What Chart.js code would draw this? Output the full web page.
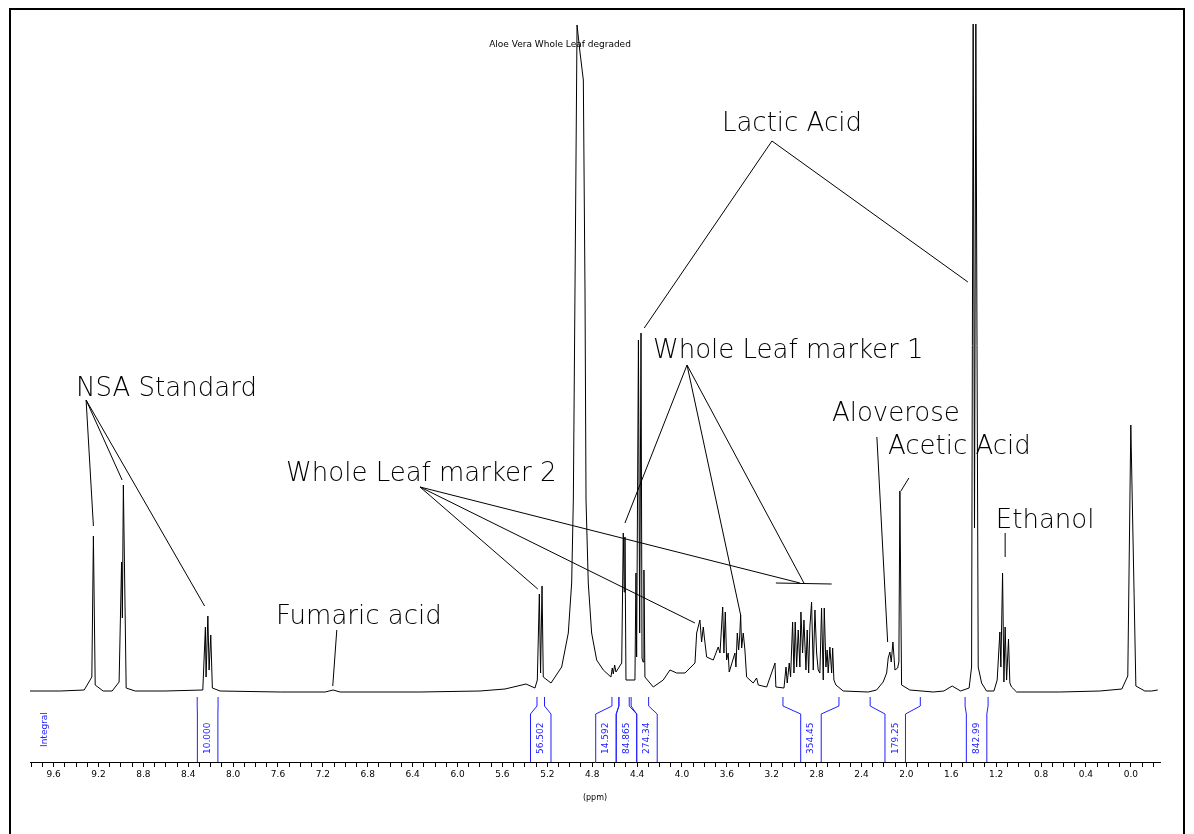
<!DOCTYPE html>
<html>
<head>
<meta charset="utf-8">
<title>Aloe Vera Whole Leaf degraded</title>
<script src="https://cdn.jsdelivr.net/npm/chart.js@4.4.1/dist/chart.umd.min.js"></script>
<style>
	html, body { margin: 0; padding: 0; background: #fff; }
	canvas { display: block; }
</style>
</head>
<body>
<canvas id="espectro" width="1194" height="834"></canvas>
<script>
const ppm = [
	9.81, 9.54, 9.327, 9.259, 9.245, 9.229, 9.158, 9.078, 9.016, 8.994, 8.987, 8.978, 8.953, 8.873,
	8.606, 8.270, 8.247, 8.241, 8.225, 8.214, 8.199, 8.185, 8.116, 7.581, 7.180, 7.109, 7.047, 6.334,
	5.800, 5.577, 5.390, 5.310, 5.289, 5.271, 5.260, 5.247, 5.236, 5.167, 5.072, 5.013, 4.983, 4.968,
	4.950, 4.935, 4.909, 4.879, 4.864, 4.855, 4.835, 4.805, 4.760, 4.701, 4.633, 4.621, 4.612, 4.600,
	4.588, 4.537, 4.523, 4.515, 4.508, 4.499, 4.419, 4.410, 4.404, 4.388, 4.377, 4.365, 4.356, 4.347,
	4.339, 4.330, 4.256, 4.167, 4.107, 4.047, 3.973, 3.884, 3.869, 3.840, 3.825, 3.810, 3.801, 3.780,
	3.721, 3.677, 3.661, 3.637, 3.626, 3.614, 3.602, 3.588, 3.579, 3.528, 3.519, 3.507, 3.495, 3.486,
	3.477, 3.468, 3.454, 3.439, 3.424, 3.365, 3.335, 3.320, 3.245, 3.171, 3.163, 3.091, 3.073, 3.062,
	3.044, 3.032, 3.014, 3.002, 2.991, 2.978, 2.964, 2.949, 2.940, 2.925, 2.913, 2.895, 2.884, 2.871,
	2.860, 2.845, 2.830, 2.815, 2.800, 2.786, 2.771, 2.756, 2.741, 2.732, 2.717, 2.706, 2.697, 2.682,
	2.666, 2.657, 2.646, 2.628, 2.563, 2.340, 2.266, 2.207, 2.176, 2.162, 2.147, 2.135, 2.120, 2.102,
	2.078, 2.067, 2.058, 2.043, 1.969, 1.761, 1.666, 1.592, 1.517, 1.441, 1.419, 1.405, 1.393, 1.381,
	1.360, 1.330, 1.286, 1.220, 1.191, 1.167, 1.158, 1.143, 1.131, 1.120, 1.107, 1.090, 1.078, 1.063,
	1.018, 0.633, 0.276, 0.080, 0.027, 0.000, -0.045, -0.125, -0.187, -0.24
];
const intensidad = [
	1, 1, 2, 15, 156, 7, 1, 1, 10, 130, 74, 207, 4, 1,
	1, 2, 65, 15, 76, 22, 57, 4, 1, 0, 0, 2, 0, 0,
	1, 3, 8, 4, 12, 98, 19, 106, 15, 9, 25, 59, 109, 192,
	450, 667, 640, 612, 400, 192, 109, 59, 32, 22, 15, 24, 18, 27,
	20, 29, 159, 100, 155, 12, 12, 119, 35, 352, 59, 359, 34, 30,
	122, 15, 5, 12, 22, 19, 19, 29, 59, 72, 50, 65, 55, 35,
	32, 45, 39, 85, 39, 80, 32, 39, 20, 39, 25, 59, 42, 55,
	77, 44, 59, 42, 15, 9, 14, 7, 5, 29, 5, 4, 25, 9,
	29, 15, 70, 19, 70, 25, 62, 25, 80, 39, 72, 22, 62, 19,
	65, 90, 22, 82, 39, 22, 19, 84, 12, 84, 25, 42, 19, 45,
	19, 44, 12, 7, 1, 0, 2, 10, 19, 34, 40, 30, 50, 22,
	24, 30, 201, 7, 2, 0, 1, 6, 1, 4, 25, 668, 164, 668,
	25, 9, 1, 1, 12, 60, 25, 119, 10, 65, 12, 53, 9, 5,
	0, 0, 1, 3, 16, 267, 6, 1, 1, 2
];

// eje x
const etiquetasEje = ['9.6', '9.2', '8.8', '8.4', '8.0', '7.6', '7.2', '6.8', '6.4', '6.0', '5.6', '5.2',
	'4.8', '4.4', '4.0', '3.6', '3.2', '2.8', '2.4', '2.0', '1.6', '1.2', '0.8', '0.4', '0.0'];

// integrales
const integralDesde = [8.320, 5.292, 4.624, 4.562, 4.453, 3.100, 2.323, 1.477];
const integralHasta = [8.134, 5.225, 4.562, 4.470, 4.297, 2.601, 1.876, 1.272];
const integralValor = ['10.000', '56.502', '14.592', '84.865', '274.34', '354.45', '179.25', '842.99'];

// asignaciones
const nombres = ['NSA Standard', 'Whole Leaf marker 2', 'Fumaric acid', 'Lactic Acid',
	'Whole Leaf marker 1', 'Aloverose', 'Acetic Acid', 'Ethanol'];
const nombrePpm = [9.399, 7.528, 7.617, 3.644, 4.258, 2.664, 2.165, 1.203];
const nombreAltura = [296, 211, 68, 561, 334, 271, 238, 164];

// lineas guia [ppm1, altura1, ppm2, altura2]
const guias = [
	[9.310, 292, 9.245, 166], [9.310, 292, 8.989, 212], [9.310, 292, 8.254, 86],
	[6.334, 205, 5.285, 103], [6.334, 205, 3.884, 69], [6.334, 205, 2.949, 109],
	[3.163, 109, 2.666, 108],
	[3.955, 327, 4.508, 169], [3.955, 327, 3.477, 77], [3.955, 327, 2.913, 109],
	[3.198, 551, 4.336, 364], [3.198, 551, 1.452, 410],
	[2.263, 255, 2.167, 50],
	[1.978, 214, 2.049, 201],
	[1.120, 159, 1.120, 135],
	[7.076, 62, 7.112, 6]
];

const AZUL = '#2020ff';

const valoresTicks = [];
for (let i = 98; i >= -2; i--) valoresTicks.push(i / 10);

const extras = {
	id: 'extras',
	afterDatasetsDraw(chart) {
		const { ctx, chartArea } = chart;
		const sx = chart.scales.x;
		const sy = chart.scales.y;
		ctx.save();

		// guias
		ctx.strokeStyle = '#000';
		ctx.lineWidth = 1;
		guias.forEach((g) => {
			ctx.beginPath();
			ctx.moveTo(sx.getPixelForValue(g[0]), sy.getPixelForValue(g[1]));
			ctx.lineTo(sx.getPixelForValue(g[2]), sy.getPixelForValue(g[3]));
			ctx.stroke();
		});

		// nombres
		ctx.fillStyle = '#000';
		ctx.font = '200 26px "DejaVu Sans"';
		ctx.textAlign = 'left';
		ctx.textBaseline = 'alphabetic';
		nombres.forEach((n, i) => {
			ctx.fillText(n, sx.getPixelForValue(nombrePpm[i]), sy.getPixelForValue(nombreAltura[i]));
		});

		// titulo
		ctx.font = '9px "DejaVu Sans"';
		ctx.textAlign = 'center';
		ctx.fillText('Aloe Vera Whole Leaf degraded', 560, 47);

		// integrales
		const ancho = 20.5;
		const base = sy.getPixelForValue(0);
		const yTop = base + 5, ySa = base + 14, ySb = base + 22, yBot = chartArea.bottom;
		const items = integralValor.map((v, i) => {
			const xa = sx.getPixelForValue(integralDesde[i]);
			const xb = sx.getPixelForValue(integralHasta[i]);
			return { v, xa, xb, c: (xa + xb) / 2 };
		}).sort((a, b) => a.c - b.c);
		// separar etiquetas que se cruzan
		const grupos = [];
		items.forEach((it) => {
			grupos.push({ items: [it], centro: it.c });
			while (grupos.length > 1) {
				const g2 = grupos[grupos.length - 1];
				const g1 = grupos[grupos.length - 2];
				const fin1 = g1.centro + g1.items.length * ancho / 2;
				const ini2 = g2.centro - g2.items.length * ancho / 2;
				if (fin1 <= ini2) break;
				const todos = g1.items.concat(g2.items);
				grupos.splice(grupos.length - 2, 2, {
					items: todos,
					centro: todos.reduce((s, t) => s + t.c, 0) / todos.length
				});
			}
		});
		ctx.strokeStyle = AZUL;
		ctx.fillStyle = AZUL;
		ctx.font = '9px "DejaVu Sans"';
		ctx.textAlign = 'left';
		ctx.textBaseline = 'middle';
		grupos.forEach((g) => {
			g.items.forEach((it, k) => {
				const pos = g.centro + (k - (g.items.length - 1) / 2) * ancho;
				const bl = pos - ancho / 2;
				const br = pos + ancho / 2;
				ctx.beginPath();
				ctx.moveTo(it.xa, yTop); ctx.lineTo(it.xa, ySa); ctx.lineTo(bl, ySb); ctx.lineTo(bl, yBot);
				ctx.moveTo(it.xb, yTop); ctx.lineTo(it.xb, ySa); ctx.lineTo(br, ySb); ctx.lineTo(br, yBot);
				ctx.stroke();
				ctx.save();
				ctx.translate(pos, yBot - 8);
				ctx.rotate(-Math.PI / 2);
				ctx.fillText(it.v, 0, 0);
				ctx.restore();
			});
		});
		ctx.save();
		ctx.translate(45, 747);
		ctx.rotate(-Math.PI / 2);
		ctx.fillText('Integral', 0, 0);
		ctx.restore();

		ctx.restore();
	},
	afterDraw(chart) {
		const ctx = chart.ctx;
		ctx.save();
		ctx.strokeStyle = '#000';
		ctx.lineWidth = 2;
		ctx.strokeRect(10, 9, 1174, 900);
		ctx.restore();
	}
};

const ctx = document.getElementById('espectro').getContext('2d');

const espectro = new Chart(ctx, {
	type: 'line',
	data: {
		datasets: [
			{
				data: ppm.map((p, i) => ({ x: p, y: intensidad[i] })),
				borderColor: '#000',
				borderWidth: 1,
				pointRadius: 0,
				tension: 0,
				fill: false
			}
		]
	},
	options: {
		responsive: false,
		animation: false,
		devicePixelRatio: 1,
		layout: { padding: { left: 30, right: 34, top: 24, bottom: 0 } },
		plugins: { legend: { display: false }, tooltip: { enabled: false } },
		scales: {
			x: {
				type: 'linear',
				reverse: true,
				min: -0.26,
				max: 9.81,
				afterBuildTicks: (s) => {
					s.ticks = valoresTicks.map((v) => ({ value: v }));
				},
				afterFit: (s) => {
					s.height = 72;
				},
				ticks: {
					autoSkip: false,
					maxRotation: 0,
					minRotation: 0,
					padding: 2,
					color: '#000',
					font: { family: 'DejaVu Sans', size: 9 },
					callback: (v) => (etiquetasEje.includes(v.toFixed(1)) ? v.toFixed(1) : '')
				},
				grid: { display: true, drawOnChartArea: false, drawTicks: true, tickLength: 5, color: '#000' },
				border: { display: true, color: '#000', width: 1 },
				title: {
					display: true,
					text: '(ppm)',
					color: '#000',
					font: { family: 'DejaVu Sans', size: 8 },
					padding: { top: 0, bottom: 31 }
				}
			},
			y: {
				display: false,
				min: -70,
				max: 668
			}
		}
	},
	plugins: [extras]
});
</script>
</body>
</html>
